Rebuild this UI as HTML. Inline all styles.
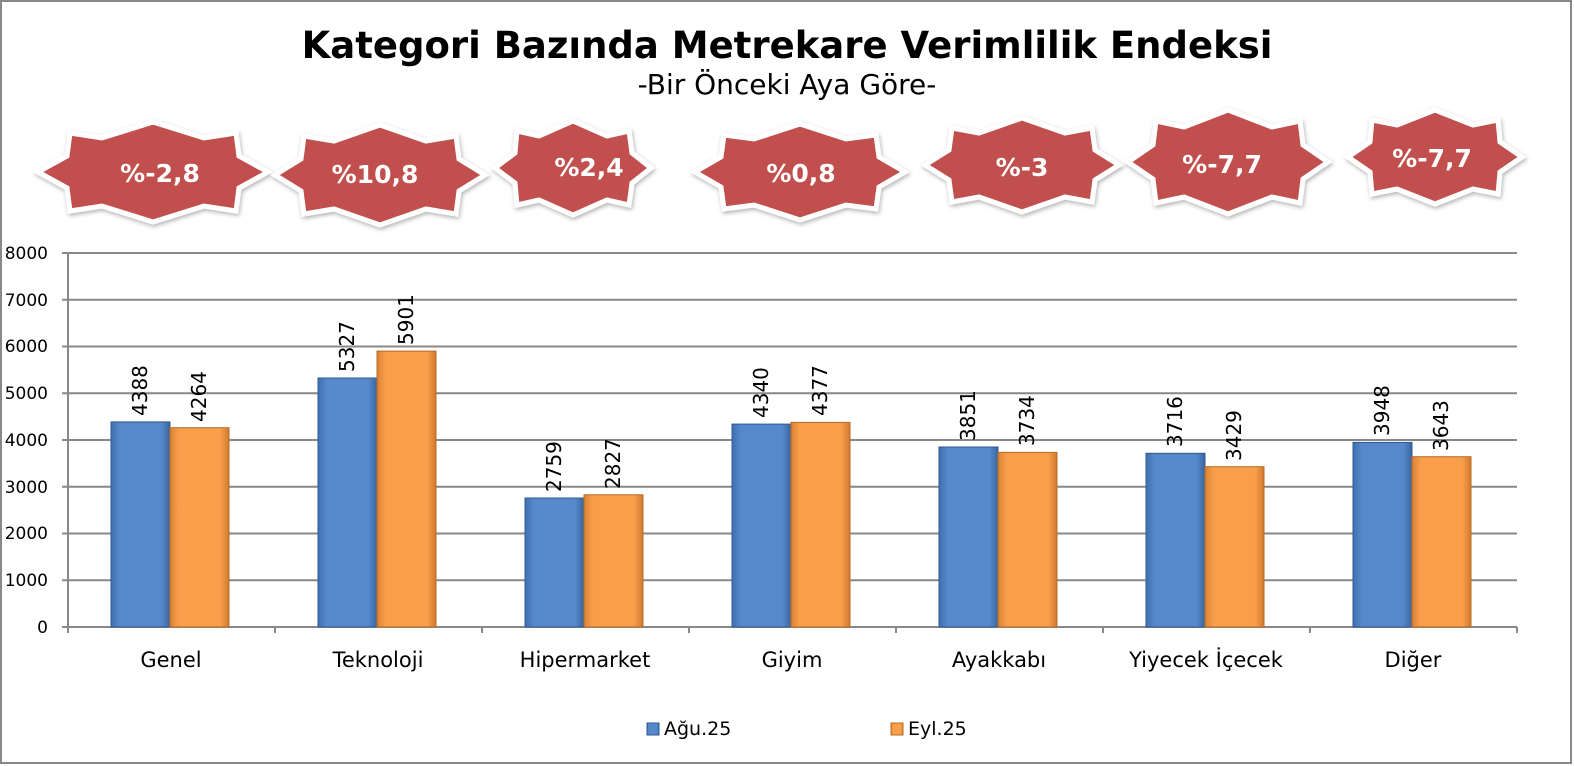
<!DOCTYPE html>
<html><head><meta charset="utf-8"><style>
html,body{margin:0;padding:0;background:#fff;}
svg{display:block;font-family:"DejaVu Sans","Liberation Sans",sans-serif;}
</style></head><body>
<svg width="1574" height="766" viewBox="0 0 1574 766" xmlns="http://www.w3.org/2000/svg">
<defs>
<filter id="sh" x="-20%" y="-20%" width="140%" height="140%"><feDropShadow dx="1" dy="2" stdDeviation="2" flood-color="#000" flood-opacity="0.3"/></filter>
<linearGradient id="gb" x1="0" x2="1" y1="0" y2="0"><stop offset="0" stop-color="#3f6fae"/><stop offset="0.15" stop-color="#5689cc"/><stop offset="0.85" stop-color="#5689cc"/><stop offset="1" stop-color="#3a66a0"/></linearGradient>
<linearGradient id="go" x1="0" x2="1" y1="0" y2="0"><stop offset="0" stop-color="#d98236"/><stop offset="0.15" stop-color="#f99f4b"/><stop offset="0.85" stop-color="#f99f4b"/><stop offset="1" stop-color="#d07a30"/></linearGradient>
</defs>
<rect x="1" y="1" width="1570" height="762" fill="#fff" stroke="#888" stroke-width="2"/>
<text x="787" y="58" text-anchor="middle" font-size="37" font-weight="bold" fill="#000">Kategori Bazında Metrekare Verimlilik Endeksi</text>
<text x="787" y="94" text-anchor="middle" font-size="28" fill="#000">-Bir Önceki Aya Göre-</text>

<g fill="#c0504d" stroke="#fff" stroke-width="5" stroke-linejoin="miter" filter="url(#sh)">
<polygon points="268,172 239,156 236,133 204,138 153,122 102,138 70,133 67,156 38,172 67,188 70,211 102,206 153,222 204,206 236,211 239,188"/>
<polygon points="485,175 459,159 456,136 426,141 380,125 334,141 304,136 301,159 275,175 301,191 304,214 334,209 380,225 426,209 456,214 459,191"/>
<polygon points="651,168 632,153 629,131 607,136 573,121 539,136 517,131 515,153 495,168 515,183 517,205 539,200 573,215 607,200 629,205 632,183"/>
<polygon points="905,172 879,157 876,135 846,139 800,124 754,139 724,135 721,157 695,172 721,187 724,209 754,205 800,220 846,205 876,209 879,187"/>
<polygon points="1119,165 1095,150 1092,128 1065,133 1022,118 979,133 952,128 949,150 925,165 949,180 952,202 979,197 1022,212 1065,197 1092,202 1095,180"/>
<polygon points="1328,162 1303,145 1300,121 1272,127 1228,110 1184,127 1156,121 1153,145 1128,162 1153,179 1156,203 1184,197 1228,214 1272,197 1300,203 1303,179"/>
<polygon points="1522,157 1500,142 1498,120 1473,125 1435,110 1397,125 1372,120 1370,142 1348,157 1370,172 1372,194 1397,189 1435,204 1473,189 1498,194 1500,172"/>
</g>
<g fill="#fff" font-weight="bold" font-size="25" text-anchor="middle">
<text x="160" y="182">%-2,8</text>
<text x="375" y="183">%10,8</text>
<text x="589" y="176">%2,4</text>
<text x="801" y="182">%0,8</text>
<text x="1022" y="176">%-3</text>
<text x="1222" y="173">%-7,7</text>
<text x="1432" y="167">%-7,7</text>
</g>

<g stroke="#888" stroke-width="2">
<line x1="62" y1="253" x2="1517" y2="253"/>
<line x1="62" y1="299.75" x2="1517" y2="299.75"/>
<line x1="62" y1="346.5" x2="1517" y2="346.5"/>
<line x1="62" y1="393.25" x2="1517" y2="393.25"/>
<line x1="62" y1="440" x2="1517" y2="440"/>
<line x1="62" y1="486.75" x2="1517" y2="486.75"/>
<line x1="62" y1="533.5" x2="1517" y2="533.5"/>
<line x1="62" y1="580.25" x2="1517" y2="580.25"/>
<line x1="62" y1="627" x2="1517" y2="627"/>
<line x1="68" y1="253" x2="68" y2="633"/>
<line x1="275" y1="627" x2="275" y2="633"/><line x1="482" y1="627" x2="482" y2="633"/><line x1="689" y1="627" x2="689" y2="633"/><line x1="896" y1="627" x2="896" y2="633"/><line x1="1103" y1="627" x2="1103" y2="633"/><line x1="1310" y1="627" x2="1310" y2="633"/><line x1="1517" y1="627" x2="1517" y2="633"/>
</g>
<g font-size="17" text-anchor="end" fill="#000">
<text x="48" y="259">8000</text><text x="48" y="306">7000</text><text x="48" y="352">6000</text><text x="48" y="399">5000</text><text x="48" y="446">4000</text><text x="48" y="493">3000</text><text x="48" y="539">2000</text><text x="48" y="586">1000</text><text x="48" y="633">0</text>
</g>

<g stroke-width="1">
<rect x="111" y="421.9" width="59" height="205.1" fill="url(#gb)" stroke="#2f5a92"/>
<rect x="170" y="427.7" width="59" height="199.3" fill="url(#go)" stroke="#b86a24"/>
<rect x="318" y="378.0" width="59" height="249.0" fill="url(#gb)" stroke="#2f5a92"/>
<rect x="377" y="351.1" width="59" height="275.9" fill="url(#go)" stroke="#b86a24"/>
<rect x="525" y="498.0" width="59" height="129.0" fill="url(#gb)" stroke="#2f5a92"/>
<rect x="584" y="494.8" width="59" height="132.2" fill="url(#go)" stroke="#b86a24"/>
<rect x="732" y="424.1" width="59" height="202.9" fill="url(#gb)" stroke="#2f5a92"/>
<rect x="791" y="422.4" width="59" height="204.6" fill="url(#go)" stroke="#b86a24"/>
<rect x="939" y="447.0" width="59" height="180.0" fill="url(#gb)" stroke="#2f5a92"/>
<rect x="998" y="452.4" width="59" height="174.6" fill="url(#go)" stroke="#b86a24"/>
<rect x="1146" y="453.3" width="59" height="173.7" fill="url(#gb)" stroke="#2f5a92"/>
<rect x="1205" y="466.7" width="59" height="160.3" fill="url(#go)" stroke="#b86a24"/>
<rect x="1353" y="442.4" width="59" height="184.6" fill="url(#gb)" stroke="#2f5a92"/>
<rect x="1412" y="456.7" width="59" height="170.3" fill="url(#go)" stroke="#b86a24"/>
</g>
<g font-size="20" fill="#000">
<text transform="translate(147,416) rotate(-90)">4388</text>
<text transform="translate(206,422) rotate(-90)">4264</text>
<text transform="translate(354,372) rotate(-90)">5327</text>
<text transform="translate(413,345) rotate(-90)">5901</text>
<text transform="translate(561,492) rotate(-90)">2759</text>
<text transform="translate(620,489) rotate(-90)">2827</text>
<text transform="translate(768,418) rotate(-90)">4340</text>
<text transform="translate(827,416) rotate(-90)">4377</text>
<text transform="translate(975,441) rotate(-90)">3851</text>
<text transform="translate(1034,446) rotate(-90)">3734</text>
<text transform="translate(1182,447) rotate(-90)">3716</text>
<text transform="translate(1241,461) rotate(-90)">3429</text>
<text transform="translate(1389,436) rotate(-90)">3948</text>
<text transform="translate(1448,451) rotate(-90)">3643</text>
</g>
<g font-size="21" text-anchor="middle" fill="#000">
<text x="171" y="667">Genel</text><text x="378" y="667">Teknoloji</text><text x="585" y="667">Hipermarket</text><text x="792" y="667">Giyim</text><text x="999" y="667">Ayakkabı</text><text x="1206" y="667">Yiyecek İçecek</text><text x="1413" y="667">Diğer</text>
</g>
<rect x="647" y="723" width="12" height="12" fill="url(#gb)" stroke="#2f5a92"/>
<text x="664" y="735" font-size="19">Ağu.25</text>
<rect x="891" y="723" width="12" height="12" fill="url(#go)" stroke="#b86a24"/>
<text x="908" y="735" font-size="19">Eyl.25</text>
</svg>
</body></html>
